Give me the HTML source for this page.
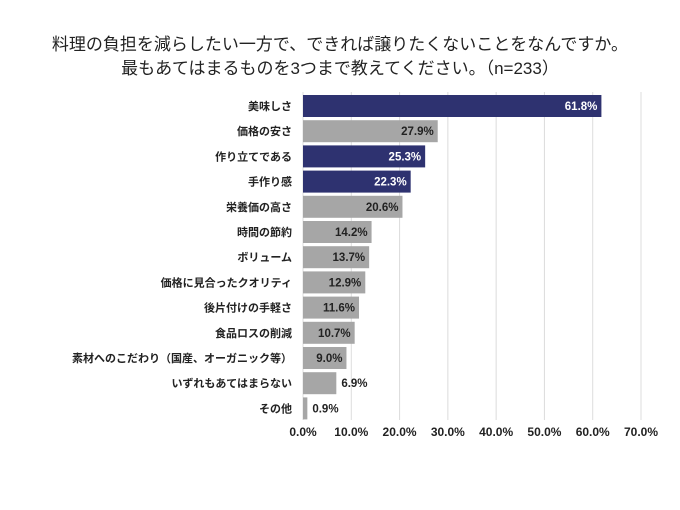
<!DOCTYPE html>
<html><head><meta charset="utf-8">
<style>
body{margin:0;background:#fff;font-family:"Liberation Sans","Noto Sans CJK JP",sans-serif;}
#wrap{position:relative;width:680px;height:510px;}
.title{position:absolute;left:0;width:680px;text-align:center;font-size:17px;color:#222;}
</style></head>
<body>
<div id="wrap">
<div class="title" style="top:30px">料理の負担を減らしたい一方で、できれば譲りたくないことをなんですか。</div>
<div class="title" style="top:54px">最もあてはまるものを3つまで教えてください。（n=233）</div>
<svg id="svg" width="680" height="510" style="position:absolute;left:0;top:0"></svg>
</div>
<script>
const categories=["美味しさ","価格の安さ","作り立てである","手作り感","栄養価の高さ","時間の節約","ボリューム","価格に見合ったクオリティ","後片付けの手軽さ","食品ロスの削減","素材へのこだわり（国産、オーガニック等）","いずれもあてはまらない","その他"];
const values=[61.8,27.9,25.3,22.3,20.6,14.2,13.7,12.9,11.6,10.7,9.0,6.9,0.9];
const highlight=[true,false,true,true,false,false,false,false,false,false,false,false,false];
const ticks=[0,10,20,30,40,50,60,70];
const NS="http://www.w3.org/2000/svg";
const svg=document.getElementById("svg");
const x0=303,xScale=(641-303)/70;
const x=v=>x0+v*xScale;
const bandTop=95,band=25.2,barH=22;
const y=i=>bandTop+i*band;
function mk(t,a){const e=document.createElementNS(NS,t);for(const k in a)e.setAttribute(k,a[k]);svg.appendChild(e);return e;}
ticks.forEach(t=>{
 const g=mk("line",{x1:x(t),x2:x(t),y1:92,y2:420,stroke:"#dcdcdc","stroke-width":1});
 
 
 const l=mk("text",{x:x(t),y:436,"text-anchor":"middle","font-size":12,"font-weight":"bold",fill:"#222"});
 l.textContent=t.toFixed(1)+"%";
 
 
});
categories.forEach((c,i)=>{
 const v=values[i];
 const r=mk("rect",{x:x0,y:y(i),width:x(v)-x0,height:barH,fill:highlight[i]?"#2e3270":"#a6a6a6"});
 
 
 const cl=mk("text",{x:292,y:y(i)+barH/2+4,"text-anchor":"end","font-size":11,"font-weight":"bold",fill:"#222"});
 cl.textContent=c;
 
 
 const inside=v>=8;
 const vl=mk("text",{x:inside?x(v)-4:x(v)+5,y:y(i)+barH/2+4,"text-anchor":inside?"end":"start","font-size":11.5,"font-weight":"bold",fill:highlight[i]?"#fff":"#222"});
 vl.textContent=v.toFixed(1)+"%";
 
 
});
</script>
</body></html>
